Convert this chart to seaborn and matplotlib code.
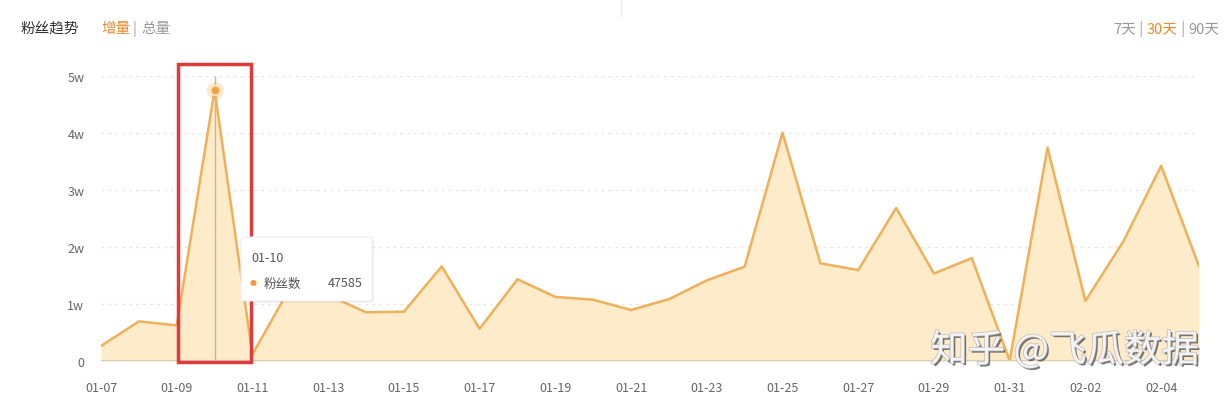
import numpy as np
import pandas as pd
import matplotlib
matplotlib.use("Agg")
import matplotlib.pyplot as plt
import matplotlib.patheffects as pe
from matplotlib.patches import Rectangle, FancyBboxPatch
import seaborn as sns

sns.set_style("white")
plt.rcParams['font.family'] = ['Noto Sans CJK SC', 'DejaVu Sans']

# 粉丝增量 (30天)
dates = ['01-07', '01-08', '01-09', '01-10', '01-11', '01-12', '01-13', '01-14',
         '01-15', '01-16', '01-17', '01-18', '01-19', '01-20', '01-21', '01-22',
         '01-23', '01-24', '01-25', '01-26', '01-27', '01-28', '01-29', '01-30',
         '01-31', '02-01', '02-02', '02-03', '02-04', '02-05']
fans = [2700, 7000, 6300, 47585, 1200, 13000, 11600, 8600,
        8700, 16650, 5700, 14400, 11300, 10800, 9000, 10900,
        14200, 16600, 40100, 17200, 16000, 26900, 15400, 18100,
        100, 37500, 10600, 21000, 34300, 16700]
yticks = [0, 10000, 20000, 30000, 40000, 50000]
ytick_labels = ['0', '1w', '2w', '3w', '4w', '5w']
highlight = '01-10'

LINE = '#EFB05A'
FILL = '#FDEBC9'
ORANGE = '#E8892B'
GREY = '#666666'

df = pd.DataFrame({'idx': np.arange(len(dates)), 'date': dates, 'fans': fans})

fig = plt.figure(figsize=(12.28, 4.10), dpi=100)
ax = fig.add_axes([101 / 1228, 1 - 362.3 / 410, 1098 / 1228, 285 / 410])

ax.fill_between(df['idx'], df['fans'], 0, color=FILL, lw=0, zorder=1)
sns.lineplot(data=df, x='idx', y='fans', color=LINE, lw=1.8, ax=ax, zorder=3)

ax.set_xlim(0, len(dates) - 1)
ax.set_ylim(0, 50000)
ax.set_yticks(yticks)
ax.set_yticklabels(ytick_labels)
ax.set_xticks(df['idx'][::2])
ax.set_xticklabels(df['date'][::2])
ax.tick_params(axis='both', length=0, labelsize=9, colors=GREY)
ax.tick_params(axis='x', pad=14)
ax.tick_params(axis='y', pad=12)
for lbl in ax.get_yticklabels():
    lbl.set_horizontalalignment('right')
ax.set_xlabel('')
ax.set_ylabel('')
for s in ax.spines.values():
    s.set_visible(False)
for v in yticks[1:]:
    ax.axhline(v, color='#e6e6e6', lw=1, ls=(0, (2, 3)), zorder=0)
ax.axhline(0, color='#d9cfc0', lw=1.5, zorder=4)

# 高亮点 01-10
hi = df[df['date'] == highlight].iloc[0]
ax.vlines(hi['idx'], 0, 50000, color='#c9b59a', lw=1, zorder=2)
ax.scatter([hi['idx']], [hi['fans']], s=160, color=LINE, alpha=0.25, lw=0, zorder=5)
ax.scatter([hi['idx']], [hi['fans']], s=45, color='#F2A444', edgecolor='#fde2b8', lw=1.2, zorder=6)

# 红框
fig.patches.append(Rectangle((178 / 1228, 1 - 363 / 410), 73 / 1228, 298 / 410,
                             transform=fig.transFigure, fill=False,
                             edgecolor='#E03A3A', lw=2.5, zorder=10))

# tooltip
shadow = FancyBboxPatch((243 / 1228, 1 - 304 / 410), 131 / 1228, 64 / 410,
                        boxstyle='round,pad=0,rounding_size=0.004',
                        transform=fig.transFigure, facecolor='#000000', alpha=0.06,
                        edgecolor='none', zorder=11)
box = FancyBboxPatch((241 / 1228, 1 - 302 / 410), 131 / 1228, 64 / 410,
                     boxstyle='round,pad=0,rounding_size=0.004',
                     transform=fig.transFigure, facecolor='white',
                     edgecolor='#eeeeee', lw=0.8, zorder=12)
fig.patches.extend([shadow, box])
fig.text(251 / 1228, 1 - 259 / 410, highlight, fontsize=9, color='#555555',
         va='center', zorder=13)
fig.text(253 / 1228, 1 - 284 / 410, '●', fontsize=5, color='#F29A3A',
         va='center', ha='center', zorder=13)
fig.text(264 / 1228, 1 - 284 / 410, '粉丝数', fontsize=9, color='#555555',
         va='center', zorder=13)
fig.text(363 / 1228, 1 - 284 / 410, str(int(hi['fans'])), fontsize=9, color='#555555',
         va='center', ha='right', zorder=13)

# 标题栏
fig.text(21 / 1228, 1 - 29 / 410, '粉丝趋势', fontsize=10.5, color='#333333', va='center')
fig.text(101 / 1228, 1 - 29 / 410, '增量', fontsize=10.5, color=ORANGE, va='center')
fig.text(132 / 1228, 1 - 29 / 410, '|', fontsize=10.5, color='#999999', va='center')
fig.text(141 / 1228, 1 - 29 / 410, '总量', fontsize=10.5, color='#999999', va='center')

right = [('90天', '#999999'), (' | ', '#999999'), ('30天', ORANGE),
         (' | ', '#999999'), ('7天', '#999999')]
fig.canvas.draw()
renderer = fig.canvas.get_renderer()
xr = 1219 / 1228
for txt, col in right:
    t = fig.text(xr, 1 - 29 / 410, txt, fontsize=10.5, color=col, va='center', ha='right')
    bb = t.get_window_extent(renderer)
    xr -= bb.width / fig.bbox.width

fig.add_artist(plt.Line2D([621 / 1228, 621 / 1228], [1, 1 - 17 / 410],
                          transform=fig.transFigure, color='#e8e8e8', lw=1))

# 水印
fig.text(930 / 1228, 1 - 352 / 410, '知乎 @飞瓜数据', fontsize=27, color='#f4f4f4',
         va='center', ha='left', zorder=20,
         path_effects=[pe.withSimplePatchShadow(offset=(1.5, -1.5), shadow_rgbFace='#555555', alpha=0.8),
                       pe.withStroke(linewidth=1, foreground='#bbbbbb')])

fig.savefig('out.png', dpi=100)
